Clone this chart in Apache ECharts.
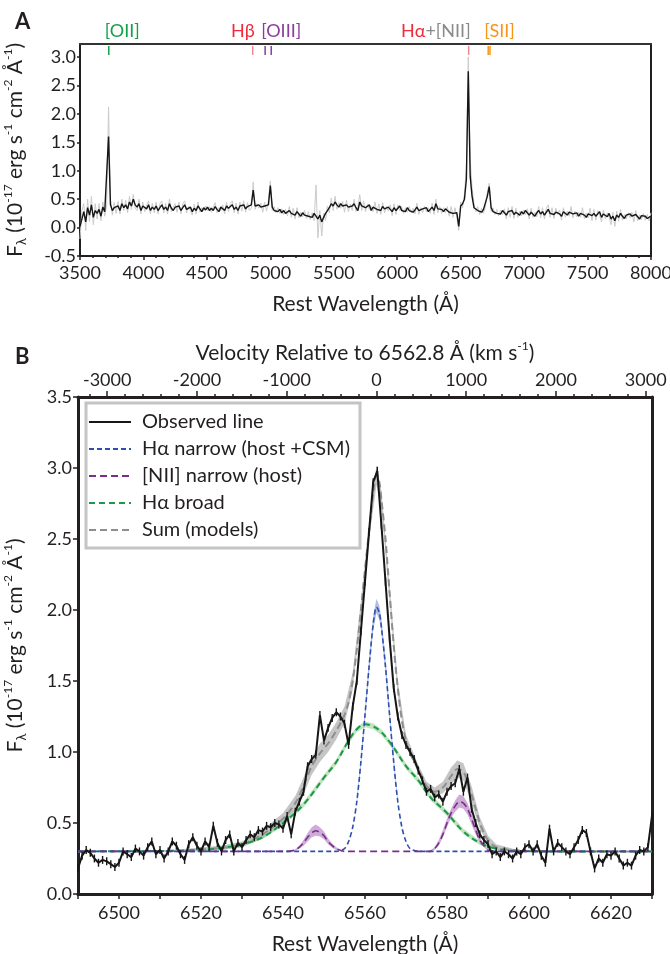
<!DOCTYPE html>
<html><head><meta charset="utf-8">
<script src="https://cdn.jsdelivr.net/npm/echarts@6/dist/echarts.min.js"></script>
<style>html,body{margin:0;padding:0;background:#fff}#c{width:670px;height:954px}</style>
</head><body><div id="c"></div>
<script>
// ---------------- Panel A data ----------------
const specStart = 3500, specStep = 15;
const specFlux = [0.02,0.15,0.28,0.1,0.35,0.22,0.4,0.18,0.3,0.25,
0.32,0.2,0.36,0.28,0.3,1.6,0.4,0.3,0.35,0.32,
0.38,0.3,0.42,0.35,0.4,0.33,0.45,0.38,0.5,0.4,
0.36,0.42,0.3,0.38,0.35,0.33,0.4,0.3,0.36,0.32,
0.38,0.3,0.35,0.4,0.32,0.36,0.3,0.42,0.34,0.3,
0.36,0.33,0.38,0.3,0.35,0.4,0.32,0.3,0.36,0.28,
0.34,0.3,0.38,0.33,0.28,0.35,0.31,0.36,0.3,0.34,
0.3,0.37,0.32,0.28,0.36,0.33,0.3,0.38,0.34,0.35,
0.4,0.32,0.36,0.3,0.38,0.35,0.4,0.33,0.37,0.36,
0.4,0.66,0.38,0.35,0.4,0.36,0.33,0.38,0.35,0.4,
0.74,0.36,0.3,0.33,0.28,0.32,0.26,0.3,0.25,0.28,
0.3,0.25,0.27,0.22,0.28,0.24,0.2,0.26,0.22,0.25,
0.2,0.23,0.18,0.25,0.2,0.15,0.22,0.1,0.18,0.25,
0.3,0.35,0.42,0.38,0.45,0.4,0.36,0.42,0.38,0.35,
0.4,0.36,0.33,0.38,0.42,0.35,0.3,0.45,0.38,0.4,
0.35,0.33,0.4,0.3,0.36,0.38,0.32,0.35,0.3,0.37,
0.33,0.3,0.36,0.32,0.28,0.35,0.3,0.33,0.38,0.3,
0.32,0.28,0.35,0.3,0.33,0.27,0.31,0.36,0.3,0.28,
0.33,0.3,0.35,0.28,0.32,0.36,0.3,0.42,0.33,0.3,
0.32,0.28,0.33,0.3,0.27,0.3,0.25,0.28,0.26,0.02,
0.38,0.42,0.5,0.85,2.75,0.9,0.55,0.35,0.35,0.3,
0.3,0.27,0.32,0.3,0.55,0.72,0.35,0.28,0.3,0.25,
0.28,0.24,0.3,0.26,0.22,0.28,0.25,0.3,0.23,0.27,
0.25,0.22,0.28,0.24,0.3,0.26,0.22,0.27,0.25,0.2,
0.26,0.3,0.24,0.28,0.22,0.27,0.32,0.25,0.28,0.23,
0.27,0.3,0.24,0.2,0.28,0.25,0.22,0.27,0.3,0.24,
0.22,0.26,0.2,0.25,0.28,0.22,0.18,0.24,0.27,0.21,
0.25,0.2,0.23,0.28,0.18,0.24,0.22,0.19,0.25,0.15,
0.2,0.12,0.22,0.18,0.25,0.2,0.16,0.22,0.19,0.24,
0.2,0.17,0.23,0.19,0.15,0.21,0.18,0.2,0.16,0.19,0.2];
const specRaw = [-0.2,0.3,0.42,-0.05,0.5,0.1,0.55,0.05,0.42,0.15,
0.42,0.12,0.45,0.2,0.38,2.12,0.5,0.22,0.44,0.25,
0.46,0.24,0.5,0.3,0.48,0.26,0.55,0.32,0.58,0.34,
0.3,0.5,0.24,0.45,0.28,0.4,0.47,0.24,0.43,0.26,
0.45,0.24,0.42,0.47,0.26,0.43,0.24,0.5,0.28,0.36,
0.42,0.27,0.45,0.24,0.42,0.47,0.26,0.37,0.3,0.22,
0.41,0.24,0.45,0.27,0.35,0.29,0.38,0.3,0.37,0.27,
0.24,0.44,0.26,0.35,0.3,0.4,0.24,0.45,0.28,0.42,
0.47,0.26,0.43,0.24,0.45,0.29,0.47,0.27,0.44,0.3,
0.34,0.8,0.32,0.42,0.34,0.43,0.27,0.45,0.29,0.47,
0.82,0.3,0.37,0.26,0.35,0.25,0.33,0.23,0.32,0.21,
0.37,0.18,0.34,0.15,0.35,0.17,0.27,0.19,0.3,0.16,
0.28,0.14,0.26,0.12,0.75,-0.18,0.3,-0.15,0.25,0.12,
0.38,0.26,0.52,0.3,0.55,0.32,0.44,0.34,0.46,0.27,
0.48,0.28,0.41,0.3,0.5,0.28,0.37,0.58,0.3,0.47,
0.28,0.41,0.32,0.37,0.28,0.45,0.25,0.42,0.23,0.44,
0.26,0.37,0.29,0.4,0.21,0.42,0.23,0.4,0.3,0.37,
0.25,0.35,0.27,0.37,0.26,0.34,0.24,0.43,0.23,0.35,
0.26,0.37,0.28,0.35,0.25,0.43,0.23,0.5,0.26,0.37,
0.25,0.35,0.26,0.37,0.2,0.37,0.18,0.35,0.19,-0.05,
0.45,0.35,0.6,1.05,3.0,1.2,0.7,0.42,0.28,0.37,
0.23,0.34,0.25,0.37,0.62,0.78,0.28,0.35,0.23,0.32,
0.21,0.31,0.23,0.33,0.15,0.35,0.18,0.37,0.16,0.34,
0.18,0.29,0.21,0.31,0.23,0.33,0.15,0.34,0.18,0.27,
0.19,0.37,0.17,0.35,0.15,0.34,0.4,0.18,0.35,0.16,
0.34,0.23,0.31,0.13,0.35,0.18,0.29,0.2,0.37,0.17,
0.29,0.19,0.27,0.18,0.35,0.15,0.25,0.17,0.34,0.12,
0.32,0.13,0.3,0.21,0.1,0.31,0.15,0.26,0.18,0.05,
0.27,0.02,0.29,0.11,0.32,0.13,0.23,0.15,0.26,0.17,
0.27,0.1,0.3,0.12,0.22,0.14,0.25,0.13,0.23,0.12,0.26];
const lineMarks = [3727, 4861, 4959, 5007, 6563, 6717, 6731];
const lineLabelAt = [3727, 4861, 4959, 6563, 6717];
const lineLabels = ['[OII]', 'Hβ', '[OIII]', '{a|Hα}{b|+[NII]}', '[SII]'];
const yTicksA = [-0.5, 0, 0.5, 1.0, 1.5, 2.0, 2.5, 3.0];

// ---------------- Panel B data ----------------
const obsStart = 6490, obsStep = 1;
const obsFlux = [0.18,0.27,0.31,0.29,0.25,0.22,0.24,0.23,0.21,0.19,
0.22,0.3,0.28,0.26,0.32,0.3,0.27,0.33,0.37,0.28,
0.31,0.25,0.3,0.37,0.34,0.28,0.24,0.35,0.4,0.34,
0.3,0.37,0.33,0.48,0.36,0.3,0.38,0.42,0.3,0.36,
0.33,0.38,0.42,0.4,0.45,0.44,0.48,0.47,0.5,0.49,
0.46,0.55,0.42,0.58,0.65,0.72,0.9,0.95,0.98,1.26,
1.08,1.17,1.24,1.28,1.25,1.2,1.05,1.32,1.5,1.85,
2.2,2.55,2.9,2.98,2.6,2.2,1.8,1.45,1.25,1.12,
1.05,1.0,0.95,0.87,0.8,0.72,0.74,0.68,0.7,0.65,
0.72,0.76,0.78,0.88,0.72,0.82,0.6,0.5,0.42,0.38,
0.35,0.28,0.3,0.26,0.3,0.28,0.25,0.3,0.28,0.33,
0.35,0.3,0.35,0.27,0.22,0.46,0.3,0.36,0.33,0.3,
0.28,0.33,0.38,0.45,0.43,0.3,0.18,0.25,0.22,0.28,
0.27,0.3,0.25,0.2,0.22,0.2,0.27,0.31,0.3,0.33,
0.55];
const obsErr = 0.028;
const haNarrow = [[6490,0.3],[6553,0.3],[6555,0.32],[6556,0.37],[6557,0.47],[6558,0.65],[6559,0.93],[6560,1.26],[6561,1.6],[6562,1.9],[6562.8,2.02],[6563.5,1.98],[6564,1.88],[6565,1.6],[6566,1.26],[6567,0.93],[6568,0.65],[6569,0.47],[6570,0.37],[6571,0.32],[6573,0.3],[6630,0.3]];
const haNarrowBand = [[6558,0.63,0.67],[6559,0.9,0.96],[6560,1.22,1.3],[6561,1.56,1.66],[6562,1.86,1.96],[6562.8,1.98,2.08],[6563.5,1.93,2.03],[6564,1.84,1.94],[6565,1.56,1.66],[6566,1.22,1.3],[6567,0.9,0.96],[6568,0.63,0.67]];
const niiNarrow = [[6490,0.3],[6541,0.3],[6543,0.31],[6544,0.33],[6545,0.36],[6546,0.4],[6547,0.43],[6548,0.445],[6549,0.435],[6550,0.41],[6551,0.37],[6552,0.34],[6553,0.32],[6555,0.3],[6576,0.3],[6577,0.32],[6578,0.36],[6579,0.42],[6580,0.5],[6581,0.57],[6582,0.62],[6583,0.65],[6584,0.64],[6585,0.6],[6586,0.53],[6587,0.45],[6588,0.38],[6589,0.34],[6590,0.31],[6592,0.3],[6630,0.3]];
const niiBandL = [[6542,0.3,0.305],[6543,0.305,0.315],[6544,0.32,0.34],[6545,0.34,0.38],[6546,0.37,0.43],[6547,0.4,0.47],[6548,0.41,0.49],[6549,0.405,0.47],[6550,0.385,0.44],[6551,0.35,0.39],[6552,0.325,0.355],[6553,0.31,0.33],[6554,0.3,0.31]];
const niiBandR = [[6576,0.3,0.31],[6577,0.31,0.33],[6578,0.34,0.38],[6579,0.4,0.45],[6580,0.47,0.53],[6581,0.54,0.6],[6582,0.58,0.66],[6583,0.61,0.7],[6584,0.6,0.69],[6585,0.56,0.64],[6586,0.49,0.57],[6587,0.42,0.48],[6588,0.36,0.4],[6589,0.33,0.35],[6590,0.305,0.315]];
const haBroad = [[6490,0.3],[6510,0.303],[6520,0.31],[6525,0.325],[6530,0.35],[6535,0.4],[6540,0.5],[6545,0.63],[6550,0.82],[6553,0.93],[6556,1.08],[6558,1.16],[6560,1.195],[6562,1.18],[6564,1.14],[6567,1.03],[6570,0.9],[6573,0.8],[6576,0.68],[6580,0.57],[6584,0.44],[6588,0.36],[6592,0.32],[6596,0.305],[6605,0.3],[6630,0.3]];
const haBroadBand = [[6510,0.298,0.308],[6520,0.3,0.32],[6525,0.31,0.34],[6530,0.335,0.365],[6535,0.385,0.415],[6540,0.48,0.52],[6545,0.61,0.65],[6550,0.8,0.84],[6553,0.91,0.95],[6556,1.06,1.1],[6558,1.14,1.18],[6560,1.175,1.215],[6562,1.16,1.2],[6564,1.12,1.16],[6567,1.01,1.05],[6570,0.88,0.92],[6573,0.78,0.82],[6576,0.66,0.7],[6580,0.55,0.59],[6584,0.42,0.46],[6588,0.345,0.375],[6592,0.31,0.33],[6596,0.3,0.31]];
const sumModel = [[6490,0.3],[6515,0.305],[6525,0.325],[6530,0.35],[6535,0.42],[6540,0.53],[6543,0.64],[6545,0.76],[6547,0.9],[6549,0.99],[6551,1.06],[6553,1.15],[6555,1.26],[6556,1.35],[6557,1.5],[6558,1.72],[6559,2.0],[6560,2.28],[6561,2.56],[6562,2.82],[6562.8,2.95],[6563.5,2.9],[6564,2.78],[6565,2.5],[6566,2.12],[6567,1.75],[6568,1.45],[6569,1.22],[6570,1.08],[6571,0.99],[6573,0.88],[6575,0.76],[6577,0.72],[6579,0.75],[6581,0.83],[6582.5,0.88],[6584,0.86],[6585,0.79],[6586,0.7],[6587,0.6],[6588,0.5],[6589,0.43],[6590,0.38],[6592,0.33],[6596,0.31],[6605,0.3],[6630,0.3]];
const sumBand = [[6515,0.295,0.315],[6525,0.31,0.34],[6530,0.33,0.37],[6535,0.39,0.45],[6540,0.49,0.57],[6543,0.59,0.69],[6545,0.7,0.82],[6547,0.84,0.96],[6549,0.93,1.06],[6551,1.0,1.12],[6553,1.09,1.21],[6555,1.2,1.32],[6557,1.44,1.56],[6559,1.94,2.06],[6561,2.5,2.62],[6562.8,2.88,3.02],[6564,2.72,2.84],[6566,2.06,2.18],[6568,1.4,1.5],[6570,1.04,1.12],[6573,0.85,0.91],[6575,0.73,0.79],[6577,0.69,0.75],[6579,0.71,0.79],[6581,0.77,0.89],[6582.5,0.82,0.94],[6584,0.8,0.92],[6586,0.64,0.76],[6588,0.46,0.54],[6590,0.35,0.41],[6592,0.31,0.35],[6596,0.3,0.32]];
const xTicksB = [6490,6500,6510,6520,6530,6540,6550,6560,6570,6580,6590,6600,6610,6620,6630];
const xLabelsB = [6500,6520,6540,6560,6580,6600,6620];
const velLabels = [-3000,-2000,-1000,0,1000,2000,3000];
const velMinor = [-3200,-2800,-2600,-2400,-2200,-1800,-1600,-1400,-1200,-800,-600,-400,-200,200,400,600,800,1200,1400,1600,1800,2200,2400,2600,2800];
const restHa = 6562.8, cKms = 299792.458;

// ---------------- styling ----------------
const FONT = 'Lato';
const INK = '#231f20';
const C = { oii:'#14a04b', hbLabel:'#ee2a3c', hTick:'#f08a90', oiii:'#8a3d9e', nii:'#8a8a8a', sii:'#f7941d',
  blue:'#2d4fae', blueBand:'rgba(110,135,210,0.55)', purple:'#7a2e8c', purpleBand:'rgba(160,90,175,0.5)',
  green:'#1a9a48', greenBand:'rgba(140,205,140,0.55)', sum:'#8e8e8e', sumBand:'rgba(150,150,150,0.55)' };
const markColors = [C.oii, C.hTick, C.oiii, C.oiii, C.hTick, C.sii, C.sii];
const labelColors = [C.oii, C.hbLabel, C.oiii, C.nii, C.sii];
const labelAlign = ['left','right','left','right','left'];

const yMinA = -0.5, yMaxA = 3.23;
const specData = specFlux.map((v,i)=>[specStart+i*specStep, v]);
const rawData = specRaw.map((v,i)=>[specStart+i*specStep, v]);
const obsData = obsFlux.map((v,i)=>[obsStart+i*obsStep, v]);

function bandRenderer(bands, color){
  return function(params, api){
    if (params.dataIndex !== 0) return;
    const children = bands.map(b => {
      const up = b.map(p => api.coord([p[0], p[2]]));
      const lo = b.slice().reverse().map(p => api.coord([p[0], p[1]]));
      return {type:'polygon', shape:{points: up.concat(lo)}, style:{fill: color}};
    });
    return {type:'group', children};
  };
}
const supRich = {
  t:{fontFamily:FONT, fontSize:21, color:INK, lineHeight:26},
  p:{fontFamily:FONT, fontSize:12, color:INK, verticalAlign:'top', lineHeight:26},
  s:{fontFamily:FONT, fontSize:13, color:INK, verticalAlign:'bottom', lineHeight:26}
};
const yName = '{t|F}{s|λ}{t| (10}{p|-17}{t| erg s}{p|-1}{t| cm}{p|-2}{t| Å}{p|-1}{t|)}';
const lab = {fontFamily:FONT, fontSize:18, color:INK};
const plain = v => String(v);

const chart = echarts.init(document.getElementById('c'), null, {renderer:'canvas'});
chart.setOption({
  animation:false,
  backgroundColor:'#fff',
  title:[
    {text:'A', left:10, top:6, textStyle:{fontFamily:FONT, fontSize:22, fontWeight:'bold', color:INK}},
    {text:'B', left:10, top:341, textStyle:{fontFamily:FONT, fontSize:22, fontWeight:'bold', color:INK}}
  ],
  grid:[
    {left:80, right:19, top:44, height:212, outerBoundsMode:'none', containLabel:false},
    {left:78, right:18, top:397, height:497, outerBoundsMode:'none', containLabel:false}
  ],
  legend:{
    data:['Observed line','Hα narrow (host +CSM)','[NII] narrow (host)','Hα broad','Sum (models)'],
    orient:'vertical', left:86, top:403, itemWidth:42, itemHeight:14, itemGap:7,
    backgroundColor:'#fff', borderColor:'#c4c4c4', borderWidth:3, borderRadius:0,
    padding:[9,10,8,2],
    itemStyle:{opacity:0},
    textStyle:{fontFamily:FONT, fontSize:20, color:INK, padding:[0,0,0,6]}
  },
  xAxis:[
    {gridIndex:0, type:'value', position:'bottom', min:3500, max:8000, interval:500,
     axisLine:{show:true, onZero:false, lineStyle:{color:INK, width:2}},
     axisTick:{show:true, length:4, lineStyle:{color:INK, width:1.5}},
     minorTick:{show:true, splitNumber:5, length:2, lineStyle:{color:INK, width:1.5}},
     axisLabel:{...lab, margin:8, formatter:plain},
     splitLine:{show:false},
     name:'Rest Wavelength (Å)', nameLocation:'middle', nameGap:38,
     nameTextStyle:{fontFamily:FONT, fontSize:21, color:INK}},
    {gridIndex:0, type:'value', position:'top', min:3500, max:8000,
     axisLine:{show:true, onZero:false, lineStyle:{color:'#333', width:2}},
     axisTick:{show:false}, axisLabel:{show:false}, splitLine:{show:false}},
    {gridIndex:1, type:'value', position:'bottom', min:6490, max:6630,
     axisLine:{show:true, onZero:false, lineStyle:{color:INK, width:3}},
     axisTick:{show:true, customValues:xTicksB, length:5, lineStyle:{color:INK, width:1.5}},
     axisLabel:{customValues:xLabelsB, ...lab, margin:10, formatter:plain},
     splitLine:{show:false},
     name:'Rest Wavelength (Å)', nameLocation:'middle', nameGap:40,
     nameTextStyle:{fontFamily:FONT, fontSize:21, color:INK}},
    {gridIndex:1, type:'value', position:'top',
     min:(6490-restHa)/restHa*cKms, max:(6630-restHa)/restHa*cKms,
     axisLine:{show:true, onZero:false, lineStyle:{color:INK, width:3}},
     axisTick:{show:true, customValues:velMinor, length:3, lineStyle:{color:INK, width:1.5}},
     axisLabel:{customValues:velLabels, ...lab, margin:8, formatter:plain},
     splitLine:{show:false},
     name:'{t|Velocity Relative to 6562.8 Å (km s}{p|-1}{t|)}', nameLocation:'middle', nameGap:31,
     nameTextStyle:{rich:supRich}},
    {gridIndex:1, type:'value', position:'top',
     min:(6490-restHa)/restHa*cKms, max:(6630-restHa)/restHa*cKms,
     axisLine:{show:false, onZero:false}, axisLabel:{show:false}, splitLine:{show:false},
     axisTick:{show:true, customValues:velLabels, length:6, lineStyle:{color:INK, width:1.5}}}
  ],
  yAxis:[
    {gridIndex:0, type:'value', position:'left', min:yMinA, max:yMaxA,
     axisLine:{show:true, onZero:false, lineStyle:{color:INK, width:2}},
     axisTick:{show:true, customValues:yTicksA, length:3, lineStyle:{color:INK, width:1.5}},
     axisLabel:{customValues:yTicksA, ...lab, margin:4, formatter:v=>v.toFixed(1)},
     splitLine:{show:false},
     name:yName, nameLocation:'middle', nameGap:52, nameRotate:90, nameTextStyle:{rich:supRich}},
    {gridIndex:0, type:'value', position:'right', min:yMinA, max:yMaxA,
     axisLine:{show:true, onZero:false, lineStyle:{color:INK, width:2}},
     axisTick:{show:false}, axisLabel:{show:false}, splitLine:{show:false}},
    {gridIndex:1, type:'value', position:'left', min:0, max:3.5, interval:0.5,
     axisLine:{show:true, onZero:false, lineStyle:{color:INK, width:3}},
     axisTick:{show:true, length:5, lineStyle:{color:INK, width:1.5}},
     axisLabel:{...lab, margin:6, formatter:v=>v.toFixed(1)},
     splitLine:{show:false},
     name:yName, nameLocation:'middle', nameGap:50, nameRotate:90, nameTextStyle:{rich:supRich}},
    {gridIndex:1, type:'value', position:'right', min:0, max:3.5,
     axisLine:{show:true, onZero:false, lineStyle:{color:INK, width:3}},
     axisTick:{show:false}, axisLabel:{show:false}, splitLine:{show:false}}
  ],
  series:[
    // Panel A
    {type:'line', name:'raw', xAxisIndex:0, yAxisIndex:0, data:rawData, symbol:'none',
     lineStyle:{color:'#cbcbcb', width:1}, z:2, silent:true},
    {type:'line', name:'spec', xAxisIndex:0, yAxisIndex:0, data:specData, symbol:'none',
     lineStyle:{color:'#161616', width:1.4}, z:3, silent:true},
    {type:'custom', name:'marks', xAxisIndex:0, yAxisIndex:0, clip:false, z:5,
     data:lineMarks.map(w=>[w, yMaxA]),
     renderItem:(params, api)=>{
       const p = api.coord([api.value(0), api.value(1)]);
       return {type:'line', shape:{x1:p[0], y1:p[1]+2, x2:p[0], y2:p[1]+11},
               style:{stroke:markColors[params.dataIndex], lineWidth:1.5}};
     }},
    {type:'custom', name:'labels', xAxisIndex:0, yAxisIndex:0, clip:false, z:5,
     data:lineLabelAt.map(w=>[w, yMaxA]),
     renderItem:(params, api)=>{
       const i = params.dataIndex;
       const p = api.coord([api.value(0), api.value(1)]);
       const al = labelAlign[i];
       return {type:'text', x:p[0] + (al==='left' ? -4 : 2), y:p[1]-4,
         style:{text:lineLabels[i], fill:labelColors[i], fontFamily:FONT, fontSize:18,
                align:al, verticalAlign:'bottom',
                rich:{a:{fill:C.hbLabel, fontFamily:FONT, fontSize:18}, b:{fill:C.nii, fontFamily:FONT, fontSize:18}}}};
     }},
    // Panel B bands
    {type:'custom', name:'sumBand', xAxisIndex:2, yAxisIndex:2, z:2, data:[[6540,0.5]],
     renderItem:bandRenderer([sumBand], C.sumBand)},
    {type:'custom', name:'broadBand', xAxisIndex:2, yAxisIndex:2, z:2, data:[[6540,0.5]],
     renderItem:bandRenderer([haBroadBand], C.greenBand)},
    {type:'custom', name:'narrowBand', xAxisIndex:2, yAxisIndex:2, z:2, data:[[6560,1]],
     renderItem:bandRenderer([haNarrowBand], C.blueBand)},
    {type:'custom', name:'niiBand', xAxisIndex:2, yAxisIndex:2, z:2, data:[[6548,0.4]],
     renderItem:bandRenderer([niiBandL, niiBandR], C.purpleBand)},
    // Panel B models
    {type:'line', name:'Sum (models)', xAxisIndex:2, yAxisIndex:2, data:sumModel, symbol:'none', smooth:0.3,
     lineStyle:{color:C.sum, width:2, type:[7,4]}, itemStyle:{color:C.sum}, z:3},
    {type:'line', name:'Hα broad', xAxisIndex:2, yAxisIndex:2, data:haBroad, symbol:'none', smooth:0.4,
     lineStyle:{color:C.green, width:2, type:[6,4]}, itemStyle:{color:C.green}, z:4},
    {type:'line', name:'Hα narrow (host +CSM)', xAxisIndex:2, yAxisIndex:2, data:haNarrow, symbol:'none', smooth:0.3,
     lineStyle:{color:C.blue, width:1.6, type:[5,3]}, itemStyle:{color:C.blue}, z:4},
    {type:'line', name:'[NII] narrow (host)', xAxisIndex:2, yAxisIndex:2, data:niiNarrow, symbol:'none', smooth:0.3,
     lineStyle:{color:C.purple, width:1.6, type:[7,4]}, itemStyle:{color:C.purple}, z:5},
    // Observed
    {type:'custom', name:'errbars', xAxisIndex:2, yAxisIndex:2, z:6, data:obsData,
     renderItem:(params, api)=>{
       const x = api.value(0), y = api.value(1);
       const a = api.coord([x, y-obsErr]), b = api.coord([x, y+obsErr]);
       return {type:'line', shape:{x1:a[0], y1:a[1], x2:b[0], y2:b[1]}, style:{stroke:'#161616', lineWidth:1.4}};
     }},
    {type:'line', name:'Observed line', xAxisIndex:2, yAxisIndex:2, data:obsData, symbol:'none',
     lineStyle:{color:'#161616', width:2}, itemStyle:{color:'#161616'}, z:7}
  ]
});
</script></body></html>
